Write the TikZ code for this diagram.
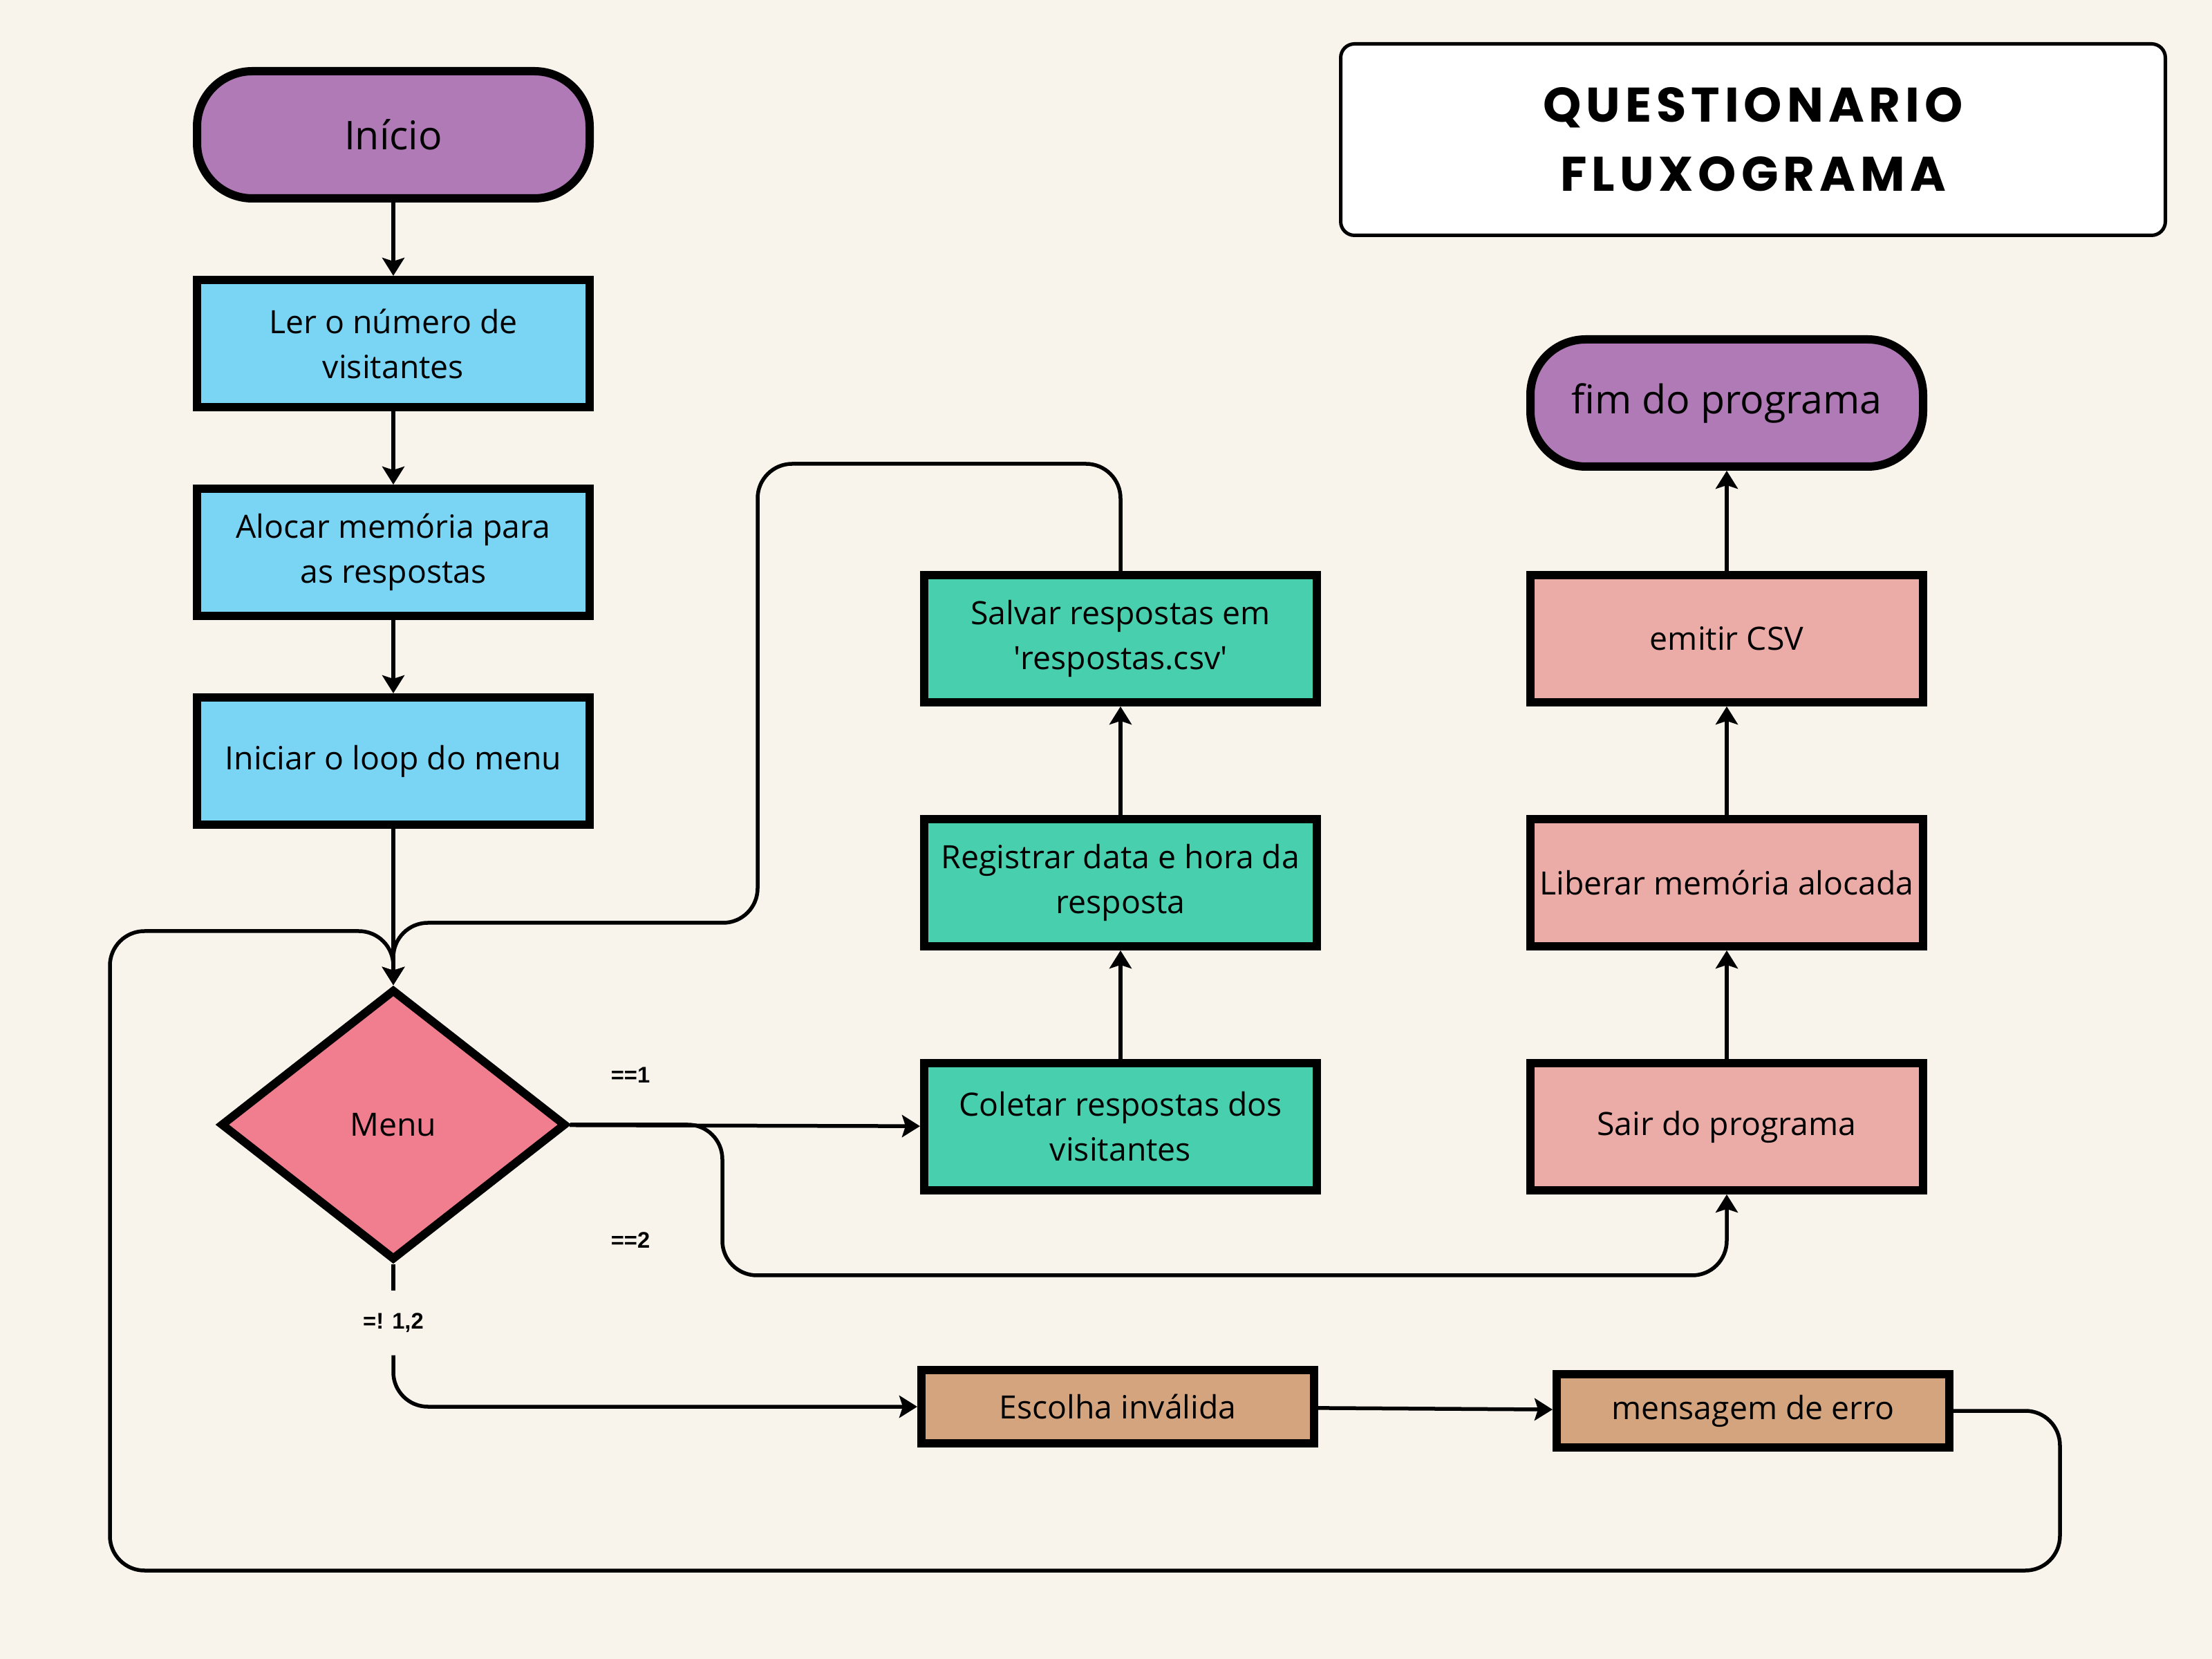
\documentclass[tikz,border=0pt]{standalone}
\usepackage{fontspec}
\setmainfont{Open Sans}
\newfontfamily\titlefont[LetterSpace=10]{Poppins}
\newfontfamily\condfont{Liberation Sans}
\usetikzlibrary{shapes.geometric, arrows.meta, positioning}

\definecolor{bgcol}{HTML}{F8F4EC}
\definecolor{termcol}{HTML}{B07AB6}
\definecolor{bluecol}{HTML}{7AD5F5}
\definecolor{menucol}{HTML}{F07E8F}
\definecolor{greencol}{HTML}{48CFAE}
\definecolor{pinkcol}{HTML}{EBACA8}
\definecolor{browncol}{HTML}{D4A47F}

\begin{document}
\begin{tikzpicture}[->, >={Stealth[length=2.6mm, width=3.2mm, inset=0.5mm]}, line width=0.55mm,
  box/.style={rectangle, draw, line width=1.2mm, minimum width=5.68cm, minimum height=1.84cm,
    align=center, font=\fontsize{13.2}{18.5}\selectfont},
  term/.style={box, rounded corners=0.8cm, fill=termcol, font=\fontsize{16.3}{20}\selectfont},
  inbox/.style={box, fill=bluecol},
  savebox/.style={box, fill=greencol},
  exitbox/.style={box, fill=pinkcol},
  errbox/.style={box, fill=browncol, minimum height=1.06cm},
  decision/.style={diamond, draw, line width=1.2mm, fill=menucol, minimum width=5.0cm,
    minimum height=3.92cm, inner sep=0pt, font=\fontsize{13.2}{18}\selectfont},
  cond/.style={font=\condfont\bfseries\fontsize{9.3}{10}\selectfont},
  flow/.style={rounded corners=0.5cm}]

  \fill[bgcol] (0,0) rectangle (32,-24);
  \useasboundingbox (0,0) rectangle (32,-24);

  % titulo
  \node[draw, line width=0.5mm, fill=white, rounded corners=0.2cm, minimum width=11.93cm,
    minimum height=2.77cm, align=center, font=\titlefont\bfseries\fontsize{20}{28.5}\selectfont]
    (title) at (25.36,-2.02) {QUESTIONARIO\\FLUXOGRAMA};

  % coluna de entrada
  \node[term] (inicio) at (5.69,-1.95) {Início};
  \node[inbox] (ler) [below of=inicio, node distance=3.02cm] {Ler o número de\\visitantes};
  \node[inbox] (alocar) [below of=ler, node distance=3.02cm] {Alocar memória para\\as respostas};
  \node[inbox] (iniciar) [below of=alocar, node distance=3.02cm] {Iniciar o loop do menu};
  \node[decision] (menu) at (5.69,-16.27) {Menu};

  % opcao 1
  \node[savebox] (coletar) at (16.21,-16.30) {Coletar respostas dos\\visitantes};
  \node[savebox] (registrar) [above of=coletar, node distance=3.53cm] {Registrar data e hora da\\resposta};
  \node[savebox] (salvar) [above of=registrar, node distance=3.53cm] {Salvar respostas em\\\textquotesingle respostas.csv\textquotesingle};

  % opcao 2
  \node[exitbox] (sair) at (24.98,-16.30) {Sair do programa};
  \node[exitbox] (liberar) [above of=sair, node distance=3.53cm] {Liberar memória alocada};
  \node[exitbox] (emitir) [above of=liberar, node distance=3.53cm] {emitir CSV};
  \node[term] (fim) [above of=emitir, node distance=3.41cm] {fim do programa};

  % escolha invalida
  \node[errbox] (escolha) at (16.17,-20.35) {Escolha inválida};
  \node[errbox] (mensagem) at (25.36,-20.41) {mensagem de erro};

  % rotulos
  \node[cond] (lbl1) at (9.12,-15.55) {==1};
  \node[cond] (lbl2) at (9.12,-17.94) {==2};
  \node[cond, inner ysep=0.3cm] (lblerr) at (5.69,-19.14) {=! 1,2};

  \draw (inicio) -- (ler);
  \draw (ler) -- (alocar);
  \draw (alocar) -- (iniciar);
  \draw (iniciar) -- (menu);
  \draw (menu) -- (coletar);
  \draw (coletar) -- (registrar);
  \draw (registrar) -- (salvar);
  \draw (sair) -- (liberar);
  \draw (liberar) -- (emitir);
  \draw (emitir) -- (fim);
  \draw (escolha) -- (mensagem);
  \draw[flow] (salvar.north) |- (10.96,-6.71) -- (10.96,-13.35) -| (menu.north);
  \draw[flow] (menu.east) -| (10.45,-18.45) -| (sair.south);
  \draw[-] (menu.south) -- (lblerr.north);
  \draw[flow] (lblerr.south) |- (escolha.west);
  \draw[flow] (mensagem.east) -| (29.80,-22.72) -| (1.59,-13.47) -| (menu.north);

\end{tikzpicture}
\end{document}
